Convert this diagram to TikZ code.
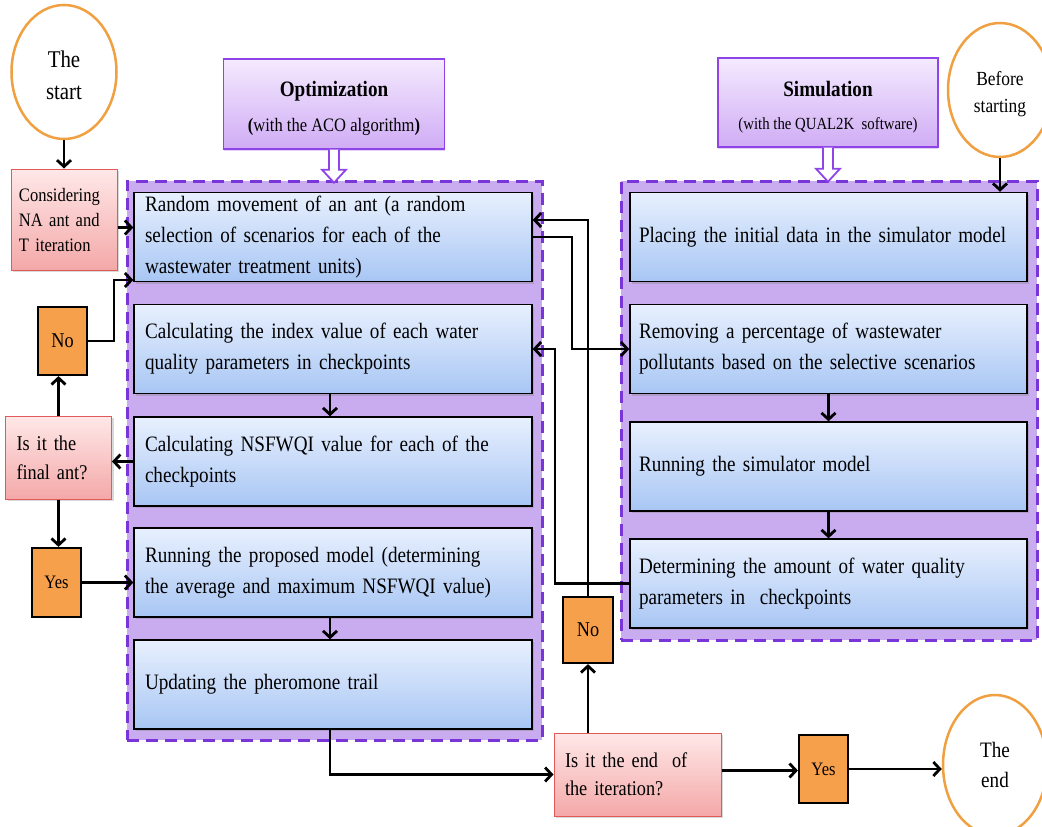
\documentclass[tikz,border=0pt]{standalone}
\usepackage{fontspec}
\setmainfont{Liberation Serif}[FakeStretch=0.87]
\usetikzlibrary{arrows.meta,shapes.geometric,shadows,calc}
\definecolor{contfill}{HTML}{C9ACF0}
\definecolor{contdraw}{HTML}{7A35D8}
\definecolor{boxtop}{HTML}{E8F0FE}
\definecolor{boxbot}{HTML}{A8C6F4}
\definecolor{hdtop}{HTML}{F4EAFE}
\definecolor{hdbot}{HTML}{D0ACF5}
\definecolor{hddraw}{HTML}{8E44E6}
\definecolor{pinktop}{HTML}{FFE8E8}
\definecolor{pinkbot}{HTML}{F4A8A8}
\definecolor{pinkdraw}{HTML}{E05A5A}
\definecolor{orangefill}{HTML}{F7A04C}
\definecolor{ovaldraw}{HTML}{F0A040}
\newcommand{\widesp}{\spaceskip=8pt plus 2pt minus 1pt\relax}
\newcommand{\tallstrut}[1]{\rule{0pt}{#1}}
\tikzset{
  container/.style={draw=contdraw, fill=contfill, line width=3pt, dash pattern=on 12pt off 7pt, inner sep=0pt},
  stepbox/.style={draw=black, line width=1.4pt, top color=boxtop, bottom color=boxbot,
    minimum width=398pt, minimum height=89pt, text width=376pt, inner xsep=11pt, align=left,
    font=\fontsize{22pt}{31pt}\selectfont\widesp,
    drop shadow={shadow xshift=2pt, shadow yshift=-2pt, opacity=0.35}},
  rbox/.style={stepbox, minimum width=397pt, text width=379pt, inner xsep=9pt},
  header/.style={draw=hddraw, line width=1.4pt, top color=hdtop, bottom color=hdbot,
    minimum width=221pt, minimum height=90pt, align=center, inner sep=0pt,
    drop shadow={shadow xshift=0pt, shadow yshift=-2pt, opacity=0.25, fill=hddraw}},
  pinkbox/.style={draw=pinkdraw, line width=1pt, top color=pinktop, bottom color=pinkbot,
    align=left, inner sep=0pt,
    drop shadow={shadow xshift=2pt, shadow yshift=-2pt, opacity=0.3}},
  orangebox/.style={draw=black, line width=2.2pt, fill=orangefill, inner sep=0pt,
    minimum width=49pt, minimum height=68pt},
  oval/.style={ellipse, draw=ovaldraw, line width=2.5pt, fill=white, inner sep=0pt,
    minimum width=105pt, minimum height=136pt, align=center},
  conn/.style={draw=black, line width=2.8pt, -{Straight Barb[length=6.5pt,width=14pt]}},
  hollow/.style={draw=hddraw, line width=1.8pt, fill=white, line join=miter}
}
\begin{document}
\begin{tikzpicture}[x=1pt,y=-1pt]
\useasboundingbox (0,0) rectangle (1042,827);
% containers
\node[container, minimum width=415pt, minimum height=559pt] (lcont) at (334.5,460.5) {};
\node[container, minimum width=416pt, minimum height=459pt] (rcont) at (829,410.5) {};
% headers
\node[header, font=\fontsize{19pt}{22pt}\selectfont] (opt) at (334,104)
  {\fontsize{22pt}{26pt}\selectfont\tallstrut{25pt}\textbf{Optimization}\\[13pt]\textbf{(}with the ACO algorithm\textbf{)}};
\node[header, minimum width=220pt, minimum height=89pt, font=\fontsize{17pt}{20pt}\selectfont] (sim) at (828,102.5)
  {\fontsize{22pt}{26pt}\selectfont\tallstrut{25pt}\textbf{Simulation}\\[13pt](with the QUAL2K\ \ software)};
% ovals
\node[oval, minimum height=134pt, font=\fontsize{24pt}{32pt}\selectfont] (start) at (64,72) {\tallstrut{23pt}The\\ start};
\node[oval, minimum height=134pt, minimum width=104pt, font=\fontsize{20pt}{27pt}\selectfont] (before) at (1000,90) {\tallstrut{22pt}Before\\ starting};
\node[oval, minimum height=140pt, minimum width=104pt, font=\fontsize{22pt}{30pt}\selectfont] (theend) at (995,765) {The\\ end};
% left step boxes
\node[stepbox] (b1) at (333,237) {Random movement of an ant (a random\\ selection of scenarios for each of the\\ wastewater treatment units)};
\node[stepbox] (b2) at (333,349) {Calculating the index value of each water\\ quality parameters in checkpoints};
\node[stepbox] (b3) at (333,461.5) {Calculating NSFWQI value for each of the\\ checkpoints};
\node[stepbox] (b4) at (333,572.5) {Running the proposed model (determining\\ the average and maximum NSFWQI value)};
\node[stepbox] (b5) at (333,684.5) {Updating the pheromone trail};
% right step boxes
\node[rbox] (r1) at (828.5,237) {\mbox{Placing the initial data in the simulator model}};
\node[rbox] (r2) at (828.5,349) {Removing a percentage of wastewater\\ \mbox{pollutants based on the selective scenarios}};
\node[rbox] (r3) at (828.5,466.5) {Running the simulator model};
\node[rbox] (r4) at (828.5,583.5) {Determining the amount of water quality\\ parameters in\ \ checkpoints};
% pink boxes
\node[pinkbox, minimum width=106pt, minimum height=101pt, text width=90pt, inner xsep=8pt,
  font=\fontsize{19pt}{25pt}\selectfont] (consid) at (64,219.5) {Considering\\ NA ant and\\ T iteration};
\node[pinkbox, minimum width=95pt, minimum height=83pt, text width=84pt, inner xsep=11pt,
  font=\fontsize{21pt}{29pt}\selectfont] (final) at (58.5,457.5) {Is it the\\ final ant?};
\node[pinkbox, minimum width=161pt, minimum height=83pt, text width=145pt, inner xsep=11pt,
  font=\fontsize{21pt}{28pt}\selectfont] (endq) at (637.5,774.5) {Is it the end\ \ of\\ the iteration?};
% orange boxes
\node[orangebox, font=\fontsize{21pt}{24pt}\selectfont] (no1) at (62.5,341) {No};
\node[orangebox, minimum height=69pt, font=\fontsize{19pt}{22pt}\selectfont] (yes1) at (56.5,582.5) {Yes};
\node[orangebox, minimum width=50pt, minimum height=66pt, font=\fontsize{21pt}{24pt}\selectfont] (no2) at (588,630) {No};
\node[orangebox, font=\fontsize{19pt}{22pt}\selectfont] (yes2) at (823.5,769) {Yes};
% junction coordinates
\coordinate (j1) at (114,280);
\coordinate (j2) at (572,349);
\coordinate (j3) at (555,349);
% connectors
\draw[conn] (start.south) -- (start.south |- consid.north);
\draw[conn] ([yshift=-8pt]consid.east) -- ([yshift=-8pt]consid.east -| b1.west);
\draw[conn] (no1.east) -| (j1) -- (j1 -| b1.west);
\draw[conn] (final.north) -- (final.north |- no1.south);
\draw[conn] (b3.west) -- (b3.west -| final.east);
\draw[conn] (final.south) -- (final.south |- yes1.north);
\draw[conn] (yes1.east) -- (yes1.east -| b4.west);
\draw[conn] ([xshift=-3pt]b2.south) -- ([xshift=-3pt]b3.north);
\draw[conn] ([xshift=-3pt]b4.south) -- ([xshift=-3pt]b5.north);
\draw[conn] ([xshift=-3pt]b5.south) |- (endq.west);
\draw[conn] (no2.south |- endq.north) -- (no2.south);
\draw[conn] (no2.north) |- ([yshift=17pt]b1.east);
\draw[conn] (b1.east) -| (j2) -- (j2 -| r2.west);
\draw[conn] (r4.west) -| (j3) -- (j3 -| b2.east);
\draw[conn] (r2.south) -- (r3.north);
\draw[conn] (r3.south) -- (r4.north);
\draw[conn] (before.south) -- (before.south |- r1.north);
\draw[conn] ([yshift=4pt]endq.east) -- ([yshift=4pt]endq.east -| yes2.west);
\draw[conn] (yes2.east) -- (yes2.east -| theend.west);
% hollow arrows
\draw[hollow] ($(opt.south)+(-5,0)$) -- ++(0,20) -- ++(-7,0) -- ($(opt.south)+(0,33)$)
  -- ($(opt.south)+(12,20)$) -- ++(-7,0) -- ($(opt.south)+(5,0)$);
\draw[hollow] ($(sim.south)+(-5,0)$) -- ++(0,21) -- ++(-7,0) -- ($(sim.south)+(0,34)$)
  -- ($(sim.south)+(12,21)$) -- ++(-7,0) -- ($(sim.south)+(5,0)$);
\end{tikzpicture}
\end{document}
